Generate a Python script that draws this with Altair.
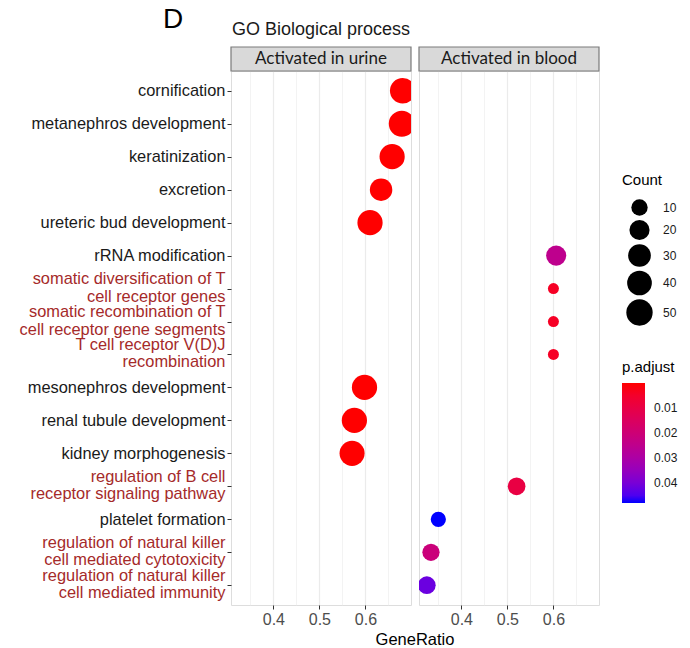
import json
import altair as alt
import pandas as pd

# ---------------- data ----------------
terms = [
    "cornification",
    "metanephros development",
    "keratinization",
    "excretion",
    "ureteric bud development",
    "rRNA modification",
    "somatic diversification of T|cell receptor genes",
    "somatic recombination of T|cell receptor gene segments",
    "T cell receptor V(D)J|recombination",
    "mesonephros development",
    "renal tubule development",
    "kidney morphogenesis",
    "regulation of B cell|receptor signaling pathway",
    "platelet formation",
    "regulation of natural killer|cell mediated cytotoxicity",
    "regulation of natural killer|cell mediated immunity",
]
groups = (["Activated in urine"] * 5 + ["Activated in blood"] * 4
          + ["Activated in urine"] * 3 + ["Activated in blood"] * 4)
gene_ratio = [0.681, 0.679, 0.658, 0.634, 0.610, 0.606, 0.600, 0.600, 0.600,
              0.598, 0.576, 0.571, 0.520, 0.350, 0.334, 0.325]
counts = [45, 48, 43, 29, 43, 20, 3, 3, 3, 43, 43, 42, 13, 8, 12, 13]
p_adjust = [1e-6, 1e-6, 1e-6, 1e-6, 1e-6, 0.025, 0.004, 0.004, 0.004,
            1e-6, 1e-6, 1e-6, 0.0096, 0.048, 0.021, 0.042]
red_terms = [terms[i] for i in (6, 7, 8, 12, 14, 15)]
panels = ["Activated in urine", "Activated in blood"]
main_title = "GO Biological process"
x_title = "GeneRatio"
panel_tag = "D"

df = pd.DataFrame({
    "term": terms,
    "group": groups,
    "GeneRatio": gene_ratio,
    "Count": counts,
    "padj": p_adjust,
})

W, H = 180, 534
FONT = "Liberation Sans"

x_vals = [0.35, 0.4, 0.45, 0.5, 0.55, 0.6, 0.65]
major_test = "abs(datum.value*10 - round(datum.value*10)) < 0.001"

size_scale = alt.Scale(type="pow", exponent=0.55, domain=[3, 52], range=[121, 710])
color_scale = alt.Scale(domain=[0.048, 0], range=["#0000FF", "#FF0000"], interpolate="lab")


def panel(name, first):
    d = df[df.group == name]
    x_axis = alt.Axis(
        values=x_vals,
        labelExpr=f"{major_test} ? format(datum.value, '.1f') : ''",
        tickOpacity={"condition": {"test": major_test, "value": 1}, "value": 0},
        gridWidth={"condition": {"test": major_test, "value": 1.2}, "value": 0.6},
        gridColor="#EBEBEB",
        domain=False,
        tickColor="#333333",
        tickSize=4,
        labelFontSize=16,
        labelColor="#4D4D4D",
        labelFont=FONT,
        labelPadding=2,
        labelOverlap=False,
        labelFlush=False,
        title=None,
    )
    if first:
        y_axis = alt.Axis(
            title=None,
            domain=False,
            tickColor="#333333",
            tickSize=4,
            labelFont=FONT,
            labelFontSize=16.4,
            labelLineHeight=17.5,
            labelBaseline="middle",
            labelPadding=2,
            labelLimit=400,
            labelOverlap=False,
            labelExpr="split(datum.label, '|')",
            labelOffset={"condition": {"test": "indexof(datum.value, '|') >= 0", "value": -10},
                         "value": 0},
            labelColor={"condition": {"test": f"indexof({json.dumps(red_terms)}, datum.value) >= 0",
                                      "value": "#A52A2A"}, "value": "#1A1A1A"},
            gridColor="#EBEBEB",
            gridWidth=1.2,
        )
    else:
        y_axis = alt.Axis(title=None, domain=False, ticks=False, labels=False,
                          gridColor="#EBEBEB", gridWidth=1.2)

    points = alt.Chart(d).mark_circle(opacity=1, clip=True).encode(
        x=alt.X("GeneRatio:Q", scale=alt.Scale(domain=[0.308, 0.699], nice=False, zero=False),
                axis=x_axis),
        y=alt.Y("term:N", sort=terms,
                scale=alt.Scale(type="point", domain=terms, padding=0.6),
                axis=y_axis),
        size=alt.Size("Count:Q", scale=size_scale,
                      legend=alt.Legend(
                          title="Count", orient="none", legendX=391, legendY=102,
                          values=[10, 20, 30, 40, 50], symbolType="circle",
                          symbolFillColor="#000000", symbolStrokeWidth=0, symbolOpacity=1,
                          symbolOffset=4,
                          titleFont=FONT, titleFontSize=15, titleFontWeight="normal",
                          titleColor="#000000", titlePadding=11,
                          labelFont=FONT, labelFontSize=12, labelColor="#1A1A1A",
                          labelOffset=10, rowPadding=3.5)),
        color=alt.Color("padj:Q", scale=color_scale, title="p.adjust",
                        legend=alt.Legend(
                            orient="none", legendX=391, legendY=289, direction="vertical",
                            gradientLength=120, gradientThickness=23,
                            values=[0.01, 0.02, 0.03, 0.04], format=".2f",
                            titleFont=FONT, titleFontSize=15, titleFontWeight="normal",
                            titleColor="#000000", titlePadding=8,
                            labelFont=FONT, labelFontSize=12, labelColor="#1A1A1A",
                            labelOffset=9, gradientStrokeWidth=0)),
        tooltip=["term:N", "GeneRatio:Q", "Count:Q", "padj:Q"],
    ).properties(width=W, height=H)

    strip_df = pd.DataFrame({"label": [name]})
    strip_rect = alt.Chart(strip_df).mark_rect(
        fill="#D9D9D9", stroke="#7A7A7A", strokeWidth=1.2
    ).encode(x=alt.value(0), x2=alt.value(W), y=alt.value(-24), y2=alt.value(0))
    strip_text = alt.Chart(strip_df).mark_text(
        font="Lato", fontSize=17, color="#1A1A1A", baseline="middle", align="center"
    ).encode(text="label:N", x=alt.value(W / 2), y=alt.value(-12))

    layers = [points, strip_rect, strip_text]
    if first:
        tag = alt.Chart(pd.DataFrame({"tag": [panel_tag]})).mark_text(
            font=FONT, fontSize=28, color="#000000", align="center", baseline="alphabetic"
        ).encode(text="tag:N", x=alt.value(-58), y=alt.value(-43))
        ttl = alt.Chart(pd.DataFrame({"t": [main_title]})).mark_text(
            font=FONT, fontSize=18, color="#1A1A1A", align="left", baseline="alphabetic"
        ).encode(text="t:N", x=alt.value(1), y=alt.value(-36))
        layers += [tag, ttl]
    return alt.layer(*layers).properties(width=W, height=H)


chart = alt.hconcat(panel(panels[0], True), panel(panels[1], False), spacing=4).properties(
    title=alt.TitleParams(x_title, orient="bottom", anchor="middle", frame="group",
                          font=FONT, fontSize=16.5, fontWeight="normal", color="#000000",
                          offset=4, dx=184),
    padding={"left": 18, "top": 5, "right": 5, "bottom": 5},
).configure_view(stroke="#7A7A7A", strokeWidth=1.2).configure(background="white")

chart.save("out.html", embed_options={"renderer": "svg", "actions": False})
